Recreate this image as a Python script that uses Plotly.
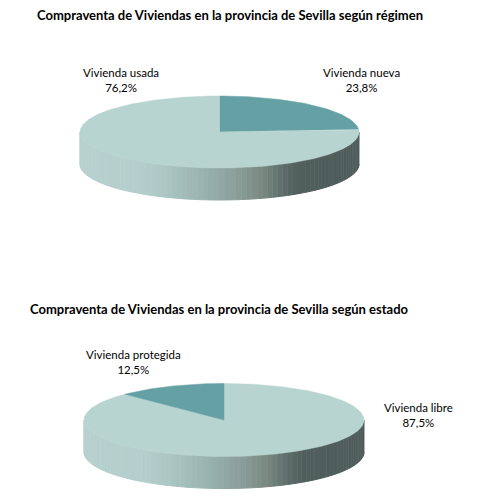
import numpy as np
import plotly.graph_objects as go

# Data
regimen_title = "Compraventa de Viviendas en la provincia de Sevilla según régimen"
regimen_labels = ["Vivienda nueva", "Vivienda usada"]
regimen_pct = [23.8, 76.2]

estado_title = "Compraventa de Viviendas en la provincia de Sevilla según estado"
estado_labels = ["Vivienda libre", "Vivienda protegida"]
estado_pct = [87.5, 12.5]

# Styles (Excel-like 3D pie)
slice_colors = {"Vivienda nueva": "#65a1a4", "Vivienda usada": "#b8d4d0",
                "Vivienda libre": "#b8d4d0", "Vivienda protegida": "#65a1a4"}
side_stops = [(0.0, (182, 208, 206)), (0.2, (180, 207, 205)), (0.3, (172, 199, 196)),
              (0.45, (152, 177, 173)), (0.55, (140, 160, 156)), (0.65, (122, 138, 130)),
              (0.72, (96, 112, 108)), (0.78, (80, 94, 92)), (1.0, (78, 92, 90))]

W, H = 477, 502
OFF = 8  # page body margin
FONT = "Lato"


def side_color(t):
    for (t0, c0), (t1, c1) in zip(side_stops[:-1], side_stops[1:]):
        if t <= t1:
            f = (t - t0) / (t1 - t0) if t1 > t0 else 0
            c = [round(a + (b - a) * f) for a, b in zip(c0, c1)]
            return "rgb(%d,%d,%d)" % tuple(c)
    return "rgb(%d,%d,%d)" % side_stops[-1][1]


def fmt(v):
    return f"{v:.1f}".replace(".", ",") + "%"


fig = go.Figure()


def add_pie(labels, pct, cx, cy, rx, ry, depth, label_pos):
    # side wall (front half, from 3 o'clock clockwise to 9 o'clock)
    n = 80
    edges = np.linspace(90, 270, n + 1)
    for a0, a1 in zip(edges[:-1], edges[1:]):
        th = np.radians(np.linspace(a0, a1, 4))
        xs = cx + rx * np.sin(th)
        ys = cy - ry * np.cos(th)
        px = np.concatenate([xs, xs[::-1]])
        py = np.concatenate([ys, ys[::-1] + depth])
        t = (xs.mean() - (cx - rx)) / (2 * rx)
        c = side_color(t)
        fig.add_trace(go.Scatter(x=px, y=py, fill="toself", fillcolor=c, mode="lines",
                                 line=dict(color=c, width=1), hoverinfo="skip", showlegend=False))
    # top face slices, starting at 12 o'clock, clockwise
    total = sum(pct)
    start = 0.0
    for lab, v in zip(labels, pct):
        sweep = 360 * v / total
        th = np.radians(np.linspace(start, start + sweep, max(int(sweep), 2) + 1))
        xs = np.concatenate([[cx], cx + rx * np.sin(th), [cx]])
        ys = np.concatenate([[cy], cy - ry * np.cos(th), [cy]])
        c = slice_colors[lab]
        fig.add_trace(go.Scatter(x=xs, y=ys, fill="toself", fillcolor=c, mode="lines",
                                 line=dict(color=c, width=0.5), name=lab,
                                 hovertemplate=lab + ": " + fmt(v) + "<extra></extra>",
                                 showlegend=False))
        start += sweep
    for lab, v in zip(labels, pct):
        lx, ly = label_pos[lab]
        fig.add_annotation(x=lx, y=ly, text=lab + "<br>" + fmt(v), showarrow=False,
                           font=dict(family=FONT, size=11.5, color="#000000"),
                           align="center", xanchor="center", yanchor="middle")


add_pie(regimen_labels, regimen_pct, 219.5, 132, 139.5, 36, 32,
        {"Vivienda usada": (121, 80), "Vivienda nueva": (361, 80)})
add_pie(estado_labels, estado_pct, 224, 420, 140, 36.5, 32,
        {"Vivienda protegida": (133.5, 362), "Vivienda libre": (418, 415)})

fig.add_annotation(x=35, y=15, text="<b>" + regimen_title + "</b>", showarrow=False,
                   xanchor="left", yanchor="middle", font=dict(family=FONT, size=13, color="#000000"))
fig.add_annotation(x=28, y=309, text="<b>" + estado_title + "</b>", showarrow=False,
                   xanchor="left", yanchor="middle", font=dict(family=FONT, size=13, color="#000000"))

fig.update_layout(
    width=W, height=H,
    margin=dict(l=0, r=0, t=0, b=0),
    paper_bgcolor="white", plot_bgcolor="white",
    xaxis=dict(range=[OFF, W + OFF], visible=False, fixedrange=True),
    yaxis=dict(range=[H + OFF, OFF], visible=False, fixedrange=True),
    showlegend=False,
)

fig.write_html("out.html")
